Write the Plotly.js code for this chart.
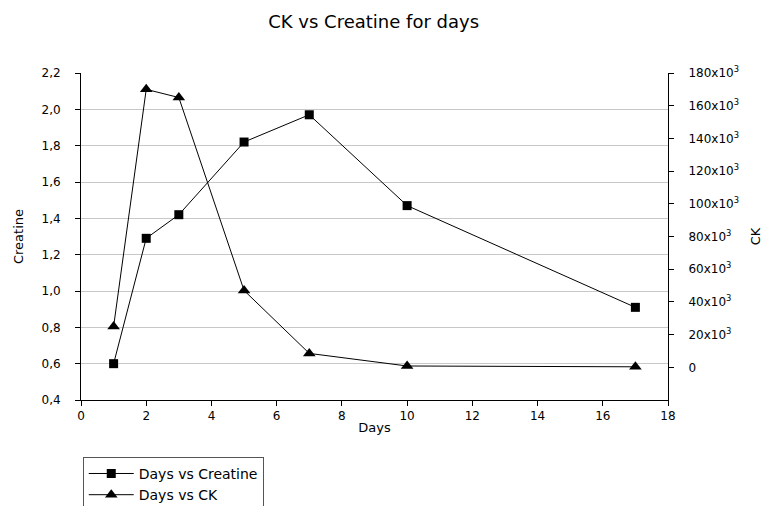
<!DOCTYPE html>
<html>
<head>
<meta charset="utf-8">
<script src="https://cdn.plot.ly/plotly-3.0.1.min.js"></script>
<style>html,body{margin:0;padding:0;background:#fff;}#chart{width:772px;height:506px;}</style>
</head>
<body>
<div id="chart"></div>
<script>
var days = [1, 2, 3, 5, 7, 10, 17];
var creatine = [0.60, 1.29, 1.42, 1.82, 1.97, 1.47, 0.91];
var ck = [25000, 170000, 165000, 47000, 8500, 800, 300];
var ckTickVals = [0, 20000, 40000, 60000, 80000, 100000, 120000, 140000, 160000, 180000];
var ckTickText = ["0", "20x10<sup>3</sup>", "40x10<sup>3</sup>", "60x10<sup>3</sup>", "80x10<sup>3</sup>",
  "100x10<sup>3</sup>", "120x10<sup>3</sup>", "140x10<sup>3</sup>", "160x10<sup>3</sup>", "180x10<sup>3</sup>"];

var font = "DejaVu Sans, Liberation Sans, Arial, sans-serif";
var traces = [
  {x: days, y: creatine, name: "Days vs Creatine", type: "scatter", mode: "lines+markers",
   line: {color: "#000", width: 1}, marker: {symbol: "square", size: 9, color: "#000"}},
  {x: days, y: ck, name: "Days vs CK", type: "scatter", mode: "lines+markers", yaxis: "y2",
   line: {color: "#000", width: 1}, marker: {symbol: "triangle-up", size: 11, color: "#000"}}
];
var layout = {
  width: 772, height: 506,
  margin: {l: 81, r: 104, t: 73, b: 106, autoexpand: false},
  paper_bgcolor: "#fff", plot_bgcolor: "#fff",
  separators: ",.",
  font: {family: font, size: 12, color: "#000"},
  title: {text: "CK vs Creatine for days", font: {family: font, size: 18, color: "#000"}, x: 0.484, xanchor: "center", y: 0.958, yanchor: "middle"},
  xaxis: {range: [0, 18], dtick: 2, tick0: 0, showgrid: false, zeroline: false,
    showline: true, linecolor: "#000", linewidth: 1, ticks: "outside", ticklen: 5, tickcolor: "#000",
    ticklabelstandoff: 0, automargin: false,
    tickfont: {size: 12}, title: {text: "Days", font: {size: 13}, standoff: 0}},
  yaxis: {range: [0.4, 2.2], dtick: 0.2, tick0: 0.4, tickformat: ".1f", showgrid: true, gridcolor: "#c8c8c8",
    zeroline: false, showline: true, linecolor: "#000", linewidth: 1, ticks: "outside", ticklen: 5, tickcolor: "#000",
    ticklabelstandoff: 12, automargin: false,
    tickfont: {size: 12}, title: {text: "Creatine", font: {size: 13}, standoff: 14}},
  yaxis2: {overlaying: "y", side: "right", range: [-20000, 180000], tickvals: ckTickVals, ticktext: ckTickText,
    showgrid: false, zeroline: false, showline: true, linecolor: "#000", linewidth: 1, ticks: "outside", ticklen: 5,
    ticklabelstandoff: 12, automargin: false,
    tickcolor: "#000", tickfont: {size: 12}, title: {text: "CK", font: {size: 13}, standoff: 12}},
  showlegend: true,
  legend: {x: 0.003, xanchor: "left", y: -0.174, yanchor: "top", bordercolor: "#555", borderwidth: 1,
    bgcolor: "#fff", font: {size: 14}, traceorder: "normal", itemwidth: 45, tracegroupgap: 0}
};
Plotly.newPlot("chart", traces, layout, {displayModeBar: false, staticPlot: true});
</script>
</body>
</html>
